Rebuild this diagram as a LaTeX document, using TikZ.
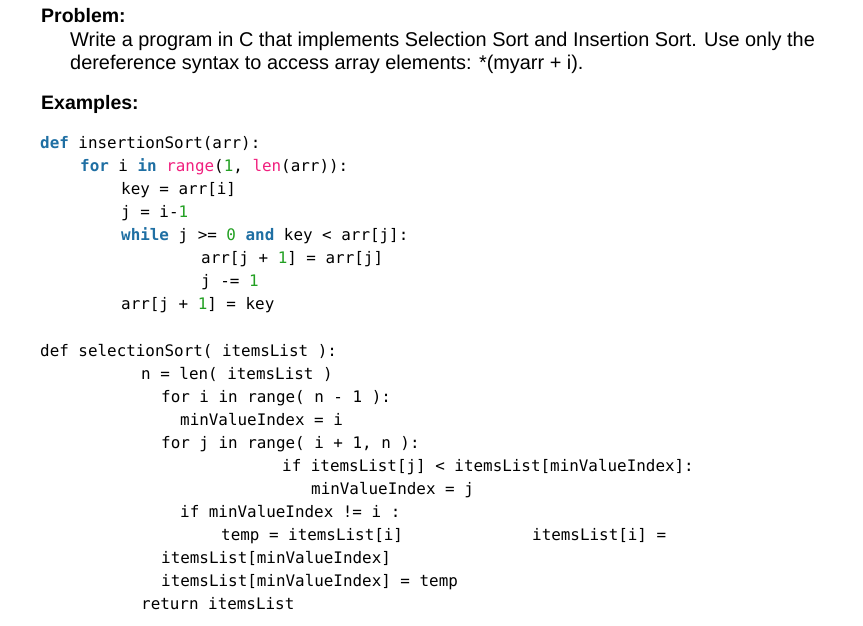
\documentclass[tikz,border=0pt]{standalone}
\usepackage{fontspec}
\setmainfont{Liberation Sans}
\setmonofont{DejaVu Sans Mono}
\definecolor{kw}{HTML}{1F6FA3}
\definecolor{num}{HTML}{22A022}
\definecolor{fn}{HTML}{F0207E}
\newcommand{\K}[1]{{\color{kw}\bfseries #1}}
\newcommand{\N}[1]{{\color{num}#1}}
\newcommand{\F}[1]{{\color{fn}#1}}
\begin{document}
\begin{tikzpicture}[x=1pt,y=-1pt,
  code/.style={anchor=base west,inner sep=0,font=\fontsize{15.9}{18}\ttfamily},
  prose/.style={anchor=base west,inner sep=0,font=\fontsize{19.9}{22}\selectfont},
  head/.style={anchor=base west,inner sep=0,font=\fontsize{19.5}{22}\bfseries}]
\useasboundingbox (0,0) rectangle (863,626);
\node[head] (p) at (41,23) {Problem:};
\node[prose] (l1) at (70,47) {Write a program in C that implements Selection Sort and Insertion Sort. Use only the};
\node[prose] (l2) at (70,70) {dereference syntax to access array elements: *(myarr + i).};
\node[head] (e) at (41,110) {Examples:};
\node[code] (c1) at (40,148) {\K{def} insertionSort(arr):};
\node[code] (c2) at (80,171) {\K{for} i \K{in} \F{range}(\N{1}, \F{len}(arr)):};
\node[code] (c3) at (121,194) {key = arr[i]};
\node[code] (c4) at (121,217) {j = i-\N{1}};
\node[code] (c5) at (121,240) {\K{while} j >= \N{0} \K{and} key < arr[j]:};
\node[code] (c6) at (201,263) {arr[j + \N{1}] = arr[j]};
\node[code] (c7) at (201,286) {j -= \N{1}};
\node[code] (c8) at (121,309) {arr[j + \N{1}] = key};
\node[code] (d1) at (40,356) {def selectionSort( itemsList ):};
\node[code] (d2) at (141,379) {n = len( itemsList )};
\node[code] (d3) at (161,402) {for i in range( n - 1 ):};
\node[code] (d4) at (180,425) {minValueIndex = i};
\node[code] (d5) at (161,448) {for j in range( i + 1, n ):};
\node[code] (d6) at (282,471) {if itemsList[j] < itemsList[minValueIndex]:};
\node[code] (d7) at (311,494) {minValueIndex = j};
\node[code] (d8) at (180,517) {if minValueIndex != i :};
\node[code] (d9) at (221,540) {temp = itemsList[i]};
\node[code] (d9b) at (532,540) {itemsList[i] =};
\node[code] (d10) at (161,563) {itemsList[minValueIndex]};
\node[code] (d11) at (161,586) {itemsList[minValueIndex] = temp};
\node[code] (d12) at (141,609) {return itemsList};
\end{tikzpicture}
\end{document}
